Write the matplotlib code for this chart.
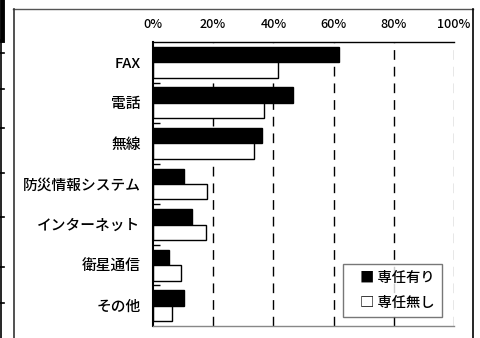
import numpy as np
import matplotlib
matplotlib.use("Agg")
import matplotlib.pyplot as plt
from matplotlib.lines import Line2D

plt.rcParams["font.family"] = ["Noto Sans CJK JP", "DejaVu Sans"]
plt.rcParams["font.weight"] = "medium"

categories = ["FAX", "電話", "無線", "防災情報システム", "インターネット", "衛星通信", "その他"]
with_staff = [61.9, 46.4, 36.2, 10.4, 13.1, 5.3, 10.4]
without_staff = [41.5, 36.8, 33.7, 17.9, 17.5, 9.3, 6.4]
xticks = [0, 20, 40, 60, 80, 100]
legend_labels = ["■ 専任有り", "□ 専任無し"]

fig = plt.figure(figsize=(4.8, 3.38), dpi=100)
ax = fig.add_axes([153 / 480, 12 / 338, 301 / 480, 284 / 338])

y = np.arange(len(categories))
h = 0.38
ax.barh(y - h / 2, with_staff, height=h, color="black", edgecolor="black", linewidth=1)
ax.barh(y + h / 2, without_staff, height=h, color="white", edgecolor="black", linewidth=1)

ax.set_xlim(0, 100)
ax.set_ylim(len(categories) - 0.5, -0.5)
ax.set_yticks(y)
ax.set_yticklabels(categories, fontsize=10.6)
ax.tick_params(axis="y", length=0, pad=9)
ax.set_yticks(np.arange(len(categories) - 1) + 0.5, minor=True)
ax.tick_params(axis="y", which="minor", direction="in", length=5, width=1, color="black")

ax.xaxis.tick_top()
ax.set_xticks(xticks)
ax.set_xticklabels([f"{t}%" for t in xticks], fontsize=9)
ax.tick_params(axis="x", length=0, pad=8)

for t in xticks[1:]:
    ax.axvline(t, color="black" if t < 100 else "#888888", linewidth=1,
               linestyle=(0, (7, 5)), zorder=0)

for s in ["top", "left"]:
    ax.spines[s].set_linewidth(1)
    ax.spines[s].set_color("black")
ax.spines["left"].set_linewidth(1.5)
ax.spines["right"].set_visible(False)
ax.spines["bottom"].set_color("#888888")
ax.spines["bottom"].set_linewidth(1)

leg = ax.legend(
    [Line2D([], [], linestyle="none")] * 2, legend_labels,
    loc="lower right", bbox_to_anchor=((442 - 153) / 301, 9 / 284),
    handlelength=0.7, handletextpad=0, fontsize=10.3,
    frameon=True, fancybox=False, edgecolor="#555555",
    borderpad=0.5, labelspacing=0.75, borderaxespad=0,
)
leg.get_frame().set_linewidth(1)

# outer frame of the figure box
W, H = 480, 338
def fl(x0, y0, x1, y1, lw=1, c="black"):
    fig.add_artist(Line2D([x0 / W, x1 / W], [1 - y0 / H, 1 - y1 / H],
                          color=c, linewidth=lw, transform=fig.transFigure))

fl(13, 9, 473, 9, c="#555555")
fl(13.5, 9, 13.5, 338, lw=1.2, c="#333333")
fl(473, 9, 473, 338, lw=1.2, c="black")

# cropped table edge on the far left
fl(1.5, 0, 1.5, 40, lw=3.5)
fl(1, 40, 1, 338, lw=1.2)
for yy in [53, 89, 128, 173, 217, 267, 303]:
    fl(0, yy, 4, yy, lw=1.2)

fig.savefig("out.png", dpi=100)
